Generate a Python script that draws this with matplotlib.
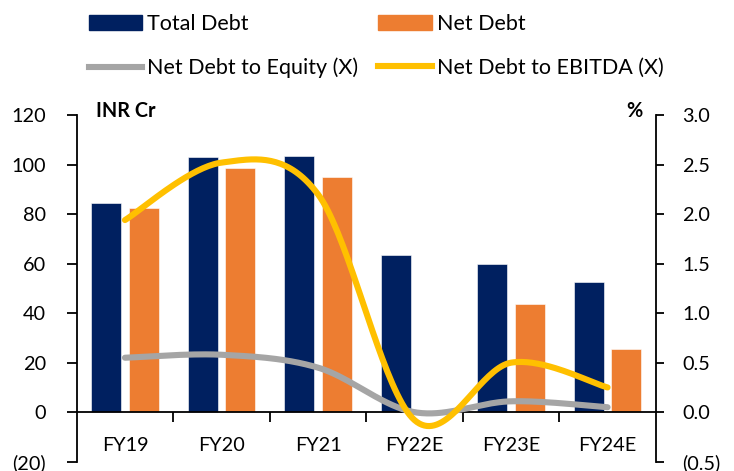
import numpy as np
import matplotlib.pyplot as plt
from matplotlib.ticker import FuncFormatter
from matplotlib.lines import Line2D
from matplotlib.patches import Patch

plt.rcParams['font.family'] = ['Lato', 'DejaVu Sans']

# data
years = ['FY19', 'FY20', 'FY21', 'FY22E', 'FY23E', 'FY24E']
total_debt = [84.5, 103.2, 103.5, 63.4, 60.0, 52.6]
net_debt = [82.6, 98.8, 95.1, 0.0, 43.8, 25.5]
nd_equity = [0.55, 0.58, 0.45, 0.0, 0.11, 0.05]
nd_ebitda = [1.94, 2.52, 2.20, -0.08, 0.50, 0.25]

NAVY = '#002060'
ORANGE = '#ED7D31'
GREY = '#A5A5A5'
YELLOW = '#FFC000'
FS = 14.3
LFS = 15.5


def smooth(xs, ys, n=40):
    # Excel style smoothed line: cubic bezier with catmull-rom tangents
    xs = np.asarray(xs, float)
    ys = np.asarray(ys, float)
    px = np.concatenate([[xs[0]], xs, [xs[-1]]])
    py = np.concatenate([[ys[0]], ys, [ys[-1]]])
    outx, outy = [], []
    t = np.linspace(0, 1, n)
    for i in range(1, len(px) - 2):
        p0 = np.array([px[i], py[i]])
        p3 = np.array([px[i + 1], py[i + 1]])
        p1 = p0 + (np.array([px[i + 1], py[i + 1]]) - np.array([px[i - 1], py[i - 1]])) / 6
        p2 = p3 - (np.array([px[i + 2], py[i + 2]]) - np.array([px[i], py[i]])) / 6
        b = ((1 - t) ** 3)[:, None] * p0 + (3 * (1 - t) ** 2 * t)[:, None] * p1 \
            + (3 * (1 - t) * t ** 2)[:, None] * p2 + (t ** 3)[:, None] * p3
        outx.extend(b[:, 0])
        outy.extend(b[:, 1])
    return outx, outy


def paren(v, pos, fmt):
    if v < 0:
        return '(' + fmt.format(-v) + ')'
    return fmt.format(v)


fig = plt.figure(figsize=(7.34, 4.71), dpi=100)
ax = fig.add_axes([0.1045, 0.0197, 0.789, 0.736])
x = np.arange(len(years))
w = 0.31
ax.bar(x - 0.195, total_debt, w, color=NAVY, edgecolor='white', linewidth=0.4)
ax.bar(x + 0.195, net_debt, w, color=ORANGE, edgecolor='white', linewidth=0.4)

ax.set_xlim(-0.5, len(years) - 0.5)
ax.set_ylim(-20, 120)
ax.set_yticks(np.arange(-20, 121, 20))
ax.yaxis.set_major_formatter(FuncFormatter(lambda v, p: paren(v, p, '{:.0f}')))
ax.tick_params(axis='y', direction='out', length=7, width=1.3, pad=15, labelsize=FS)

for s in ['top', 'right']:
    ax.spines[s].set_visible(False)
ax.spines['left'].set_linewidth(1.3)
ax.spines['bottom'].set_position(('data', 0))
ax.spines['bottom'].set_linewidth(1.3)
ax.set_xticks(np.arange(0.5, len(years) - 1, 1))
ax.set_xticklabels([])
ax.set_xticks(x, minor=True)
ax.set_xticklabels(years, minor=True)
ax.tick_params(axis='x', which='major', direction='out', length=7, width=1.3)
ax.tick_params(axis='x', which='minor', length=0, pad=18, labelsize=FS)

ax2 = ax.twinx()
ax2.set_ylim(-0.5, 3.0)
ax2.set_yticks(np.arange(-0.5, 3.01, 0.5))
ax2.yaxis.set_major_formatter(FuncFormatter(lambda v, p: paren(v, p, '{:.1f}')))
ax2.tick_params(axis='y', direction='out', length=6, width=1.3, pad=13, labelsize=FS)
for s in ['top', 'left', 'bottom']:
    ax2.spines[s].set_visible(False)
ax2.spines['right'].set_linewidth(1.3)

sx, sy = smooth(x, nd_equity)
ax2.plot(sx, sy, color=GREY, lw=4.4, solid_capstyle='round')
sx, sy = smooth(x, nd_ebitda)
ax2.plot(sx, sy, color=YELLOW, lw=4.4, solid_capstyle='round')

fig.text(0.131, 0.764, 'INR Cr', fontsize=FS, fontweight='bold', va='center')
fig.text(0.864, 0.764, '%', fontsize=FS, fontweight='bold', va='center', ha='center')

h1 = [Patch(color=NAVY), Line2D([], [], color=GREY, lw=4.4)]
h2 = [Patch(color=ORANGE), Line2D([], [], color=YELLOW, lw=4.4)]
common = dict(loc='upper left', frameon=False, fontsize=LFS, borderpad=0,
              handlelength=2.5, handleheight=0.68, handletextpad=0.2,
              labelspacing=1.1)
fig.legend(h1, ['Total Debt', 'Net Debt to Equity (X)'],
           bbox_to_anchor=(0.106, 0.993), **common)
fig.legend(h2, ['Net Debt', 'Net Debt to EBITDA (X)'],
           bbox_to_anchor=(0.501, 0.993), **common)

fig.savefig('out.png', dpi=100)
